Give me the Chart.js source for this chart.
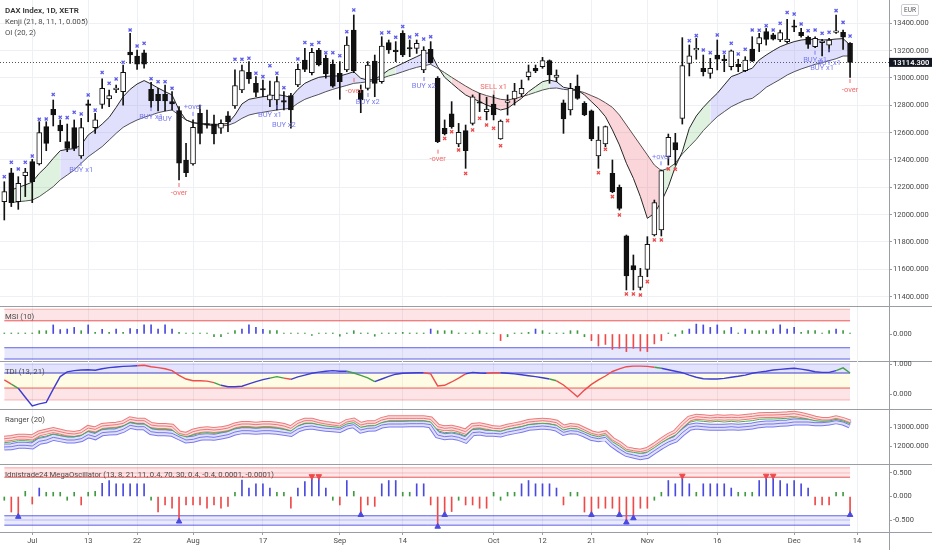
<!DOCTYPE html>
<html>
<head>
<meta charset="utf-8">
<script src="https://cdn.jsdelivr.net/npm/chart.js@4.4.1/dist/chart.umd.min.js"></script>
<style>
  html, body { margin: 0; padding: 0; background: #fff; }
  #wrap { position: relative; width: 932px; height: 550px; overflow: hidden; font-family: Roboto, "Noto Sans", sans-serif; }
  canvas { position: absolute; left: 0; z-index: 2; }
  .sep { position: absolute; left: 0; width: 932px; height: 1px; background: #9a9da3; z-index: 1; }
  .vline { position: absolute; left: 889px; top: 0; width: 1px; height: 550px; background: #9a9da3; z-index: 1; }
  .ttl { position: absolute; left: 5px; font-size: 7.7px; line-height: 10px; color: #4a4a4a; white-space: nowrap; z-index: 4; }
  .hd { color: #333; font-weight: 600; font-size: 8px; }
  .eur { position: absolute; left: 901px; top: 4px; width: 16px; height: 10px; border: 1px solid #c9ccd2; border-radius: 2px;
         font-size: 6.5px; line-height: 10px; text-align: center; color: #555; z-index: 4; }
</style>
</head>
<body>
<div id="wrap">
  <canvas id="cMain" width="932" height="306" style="top:0;width:932px;height:306px"></canvas>
  <canvas id="cMsi"  width="932" height="54"  style="top:307px;width:932px;height:54px"></canvas>
  <canvas id="cTdi"  width="932" height="48"  style="top:361px;width:932px;height:48px"></canvas>
  <canvas id="cRng"  width="932" height="54"  style="top:410px;width:932px;height:54px"></canvas>
  <canvas id="cMega" width="932" height="85"  style="top:465px;width:932px;height:85px"></canvas>

  <div class="sep" style="top:306px"></div>
  <div class="sep" style="top:361px"></div>
  <div class="sep" style="top:409px"></div>
  <div class="sep" style="top:464px"></div>
  <div class="sep" style="top:532px"></div>
  <div class="vline"></div>

  <div class="ttl hd" style="top:6px">DAX Index, 1D, XETR</div>
  <div class="ttl" style="top:17px">Kenji (21, 8, 11, 1, 0.005)</div>
  <div class="ttl" style="top:28px">OI (20, 2)</div>
  <div class="eur">EUR</div>

  <div class="ttl" style="top:312px">MSI (10)</div>
  <div class="ttl" style="top:367px">TDI (13, 21)</div>
  <div class="ttl" style="top:415px">Ranger (20)</div>
  <div class="ttl" style="top:470px">Idnistrade24 MegaOscillator (13, 8, 21, 11, 0.4, 70, 30, 0.4, -0.4, 0.0001, -0.0001)</div>
</div>

<script>
// ---- daily candles, 25 Jun .. 11 Dec 2020 (index 0 = first bar) ----
const opens = [
  12095, 12307, 12095, 12285, 12388, 12371, 12644, 12771, 12656, 12534,
  12637, 12429, 12810, 12637, 12807, 12846, 12915, 12900, 13190, 13161,
  13185, 12917, 12880, 12880, 12827, 12761, 12400, 12371, 12741, 12666,
  12663, 12632, 12724, 12795, 12912, 13041, 12961, 12922, 12839, 12839,
  12834, 12871, 12949, 13132, 13039, 13205, 13144, 13102, 13034, 13059,
  13351, 12912, 12924, 13124, 12973, 13259, 13202, 13327, 13222, 13217,
  13059, 13210, 12998, 12632, 12737, 12517, 12615, 12668, 12824, 12754,
  12810, 12554, 12822, 12846, 12883, 13010, 13071, 13083, 13127, 13005,
  12819, 12766, 12941, 12815, 12759, 12429, 12517, 12302, 12200, 11846,
  11627, 11468, 11600, 11851, 11888, 12424, 12527, 12705, 13107, 13205,
  13071, 13034, 13168, 13137, 13083, 13100, 13054, 13212, 13249, 13339,
  13315, 13278, 13266, 13380, 13334, 13298, 13229, 13259, 13241, 13334,
  13334, 13254
];
const highs = [
  12241, 12339, 12278, 12339, 12405, 12680, 12680, 12839, 12693, 12663,
  12693, 12705, 12839, 12741, 12993, 12912, 12949, 13095, 13327, 13205,
  13205, 12968, 12924, 12949, 12900, 12790, 12522, 12693, 12802, 12766,
  12729, 12693, 12754, 13059, 13095, 13120, 13010, 12985, 12978, 13010,
  12900, 12888, 13102, 13217, 13217, 13217, 13168, 13132, 13120, 13302,
  13461, 12949, 13120, 13168, 13302, 13278, 13266, 13346, 13278, 13278,
  13229, 13266, 13010, 12693, 12827, 12668, 12656, 12876, 12888, 12859,
  12876, 12693, 12876, 12961, 12985, 13095, 13095, 13151, 13132, 13059,
  12839, 12961, 13022, 12827, 12766, 12644, 12649, 12400, 12217, 11851,
  11705, 11607, 11839, 12107, 12327, 12590, 12595, 13295, 13241, 13290,
  13168, 13144, 13278, 13168, 13205, 13137, 13156, 13302, 13327, 13363,
  13327, 13351, 13429, 13424, 13363, 13307, 13302, 13283, 13290, 13460,
  13351, 13259
];
const lows = [
  11961, 12059, 12039, 12132, 12088, 12363, 12468, 12649, 12534, 12461,
  12468, 12412, 12680, 12595, 12778, 12790, 12893, 12802, 13107, 13063,
  13071, 12785, 12759, 12759, 12766, 12254, 12278, 12363, 12517, 12632,
  12517, 12595, 12607, 12778, 12893, 12961, 12863, 12863, 12790, 12766,
  12766, 12632, 12937, 13046, 13022, 13088, 12998, 12932, 12844, 13046,
  13039, 12746, 12912, 12863, 12961, 13180, 13120, 13156, 13156, 13180,
  13039, 13107, 12527, 12583, 12632, 12497, 12339, 12656, 12754, 12693,
  12693, 12551, 12729, 12802, 12863, 12985, 13039, 13071, 12961, 12973,
  12595, 12729, 12844, 12724, 12541, 12339, 12497, 12161, 12034, 11449,
  11449, 11449, 11546, 11844, 11844, 12363, 12363, 12663, 13015, 13137,
  13015, 12998, 13059, 13046, 13059, 13046, 13046, 13120, 13193, 13241,
  13278, 13266, 13254, 13339, 13298, 13217, 13222, 13161, 13193, 13327,
  13210, 13005
];
const closes = [
  12168, 12088, 12229, 12312, 12241, 12600, 12522, 12729, 12612, 12485,
  12485, 12637, 12800, 12693, 12924, 12871, 12920, 13041, 13168, 13102,
  13102, 12834, 12834, 12832, 12810, 12376, 12307, 12639, 12595, 12656,
  12590, 12668, 12680, 12944, 13054, 12993, 12895, 12912, 12876, 12973,
  12824, 12766, 13063, 13063, 13188, 13095, 13029, 12941, 12973, 13241,
  13051, 12839, 13095, 12961, 13234, 13205, 13193, 13168, 13212, 13254,
  13205, 13112, 12534, 12590, 12644, 12602, 12468, 12863, 12815, 12773,
  12729, 12685, 12832, 12905, 12924, 13046, 13051, 13127, 13022, 13022,
  12700, 12924, 12851, 12729, 12554, 12546, 12644, 12168, 12046, 11551,
  11595, 11551, 11783, 12088, 12322, 12566, 12473, 13090, 13163, 13217,
  13046, 13071, 13137, 13127, 13198, 13083, 13132, 13124, 13295, 13283,
  13285, 13332, 13285, 13371, 13310, 13246, 13290, 13271, 13278, 13344,
  13298, 13114.3
];

// ---- Kenji band: fast / slow lines and the fill state (1 up, 0 neutral, -1 down) ----
const kenjiFast = [
  null, 12180, 12200, 12217, 12239, 12302, 12351, 12412, 12468, 12478,
  12483, 12510, 12583, 12620, 12663, 12712, 12785, 12863, 12917, 12956,
  12981, 12956, 12927, 12900, 12876, 12766, 12693, 12673, 12668, 12663,
  12661, 12661, 12668, 12729, 12810, 12844, 12854, 12863, 12868, 12878,
  12871, 12858, 12917, 12961, 12985, 13005, 13012, 13015, 13015, 13029,
  13046, 12998, 12985, 12990, 13022, 13059, 13083, 13107, 13132, 13156,
  13180, 13185, 13083, 13005, 12961, 12917, 12876, 12851, 12827, 12802,
  12785, 12766, 12778, 12815, 12851, 12900, 12937, 12973, 12985, 12973,
  12932, 12922, 12912, 12876, 12827, 12778, 12717, 12620, 12510, 12376,
  12266, 12132, 11973, 12010, 12095, 12205, 12351, 12461, 12632, 12722,
  12785, 12839, 12888, 12949, 13010, 13029, 13054, 13071, 13132, 13168,
  13200, 13229, 13249, 13266, 13278, 13283, 13283, 13278, 13280, 13285,
  13288, 13241
];
const kenjiSlow = [
  null, 12088, 12095, 12100, 12107, 12132, 12168, 12205, 12254, 12290,
  12327, 12376, 12424, 12461, 12498, 12546, 12595, 12639, 12668, 12693,
  12712, 12729, 12746, 12758, 12766, 12729, 12693, 12673, 12663, 12656,
  12651, 12649, 12654, 12673, 12705, 12729, 12741, 12749, 12758, 12766,
  12773, 12778, 12815, 12844, 12863, 12880, 12900, 12917, 12932, 12946,
  12961, 12966, 12973, 12981, 12998, 13015, 13029, 13046, 13063, 13078,
  13090, 13100, 13071, 13039, 13005, 12973, 12941, 12912, 12888, 12871,
  12858, 12844, 12839, 12849, 12863, 12878, 12895, 12912, 12924, 12927,
  12917, 12912, 12907, 12893, 12871, 12849, 12819, 12785, 12729, 12656,
  12583, 12510, 12437, 12363, 12322, 12339, 12376, 12444, 12498, 12551,
  12615, 12668, 12717, 12754, 12790, 12815, 12839, 12851, 12888, 12932,
  12961, 12990, 13022, 13046, 13066, 13083, 13100, 13112, 13127, 13141,
  13161, 13161
];
const kenjiState = [
  0, 0, 0, 0, 0, 0, 0, 0, 1, 1,
  1, 1, 1, 1, 1, 1, 1, 1, 1, 1,
  1, 1, 1, 1, 1, 1, -1, -1, -1, -1,
  -1, -1, 1, 1, 1, 1, 1, 1, 1, 1,
  1, 1, 1, 1, 1, 1, 1, 1, 1, 1,
  1, 1, 1, 1, 0, 0, 1, 1, 1, 1,
  1, 1, 0, 0, -1, -1, -1, -1, -1, -1,
  -1, -1, -1, -1, -1, 0, 0, 0, 1, 1,
  1, 1, -1, -1, -1, -1, -1, -1, -1, -1,
  -1, -1, -1, -1, 0, 0, 0, 0, 0, 0,
  0, 1, 1, 1, 1, 1, 1, 1, 1, 1,
  1, 1, 1, 1, 1, 1, 1, 1, 1, 1,
  1, 1
];

// ---- OI crosses: [bar, price] ----
const crossUp = [
  [0, 12278], [1, 12383], [2, 12334], [3, 12383], [4, 12429], [5, 12698], [6, 12700], [7, 12880],
  [8, 12712], [9, 12710], [10, 12749], [11, 12737], [12, 12876], [13, 12765], [14, 13041], [15, 12961],
  [16, 12993], [17, 13115], [18, 13351], [19, 13234], [20, 13254], [21, 12995], [22, 12973], [23, 12973],
  [24, 12925], [33, 13137], [34, 13137], [35, 13145], [36, 13035], [37, 13010], [38, 13090], [39, 13035],
  [40, 12929], [42, 13139], [43, 13259], [44, 13245], [45, 13259], [46, 13185], [47, 13185], [48, 13163],
  [49, 13339], [50, 13498], [54, 13330], [55, 13334], [56, 13298], [57, 13376], [58, 13300], [59, 13317],
  [60, 13285], [61, 13302], [98, 13273], [99, 13310], [100, 13205], [101, 13185], [102, 13315], [103, 13188],
  [104, 13254], [105, 13176], [106, 13210], [107, 13351], [108, 13350], [109, 13383], [110, 13351], [111, 13400],
  [112, 13480], [113, 13468], [114, 13395], [115, 13346], [116, 13351], [117, 13327], [118, 13334], [119, 13493],
  [120, 13407], [121, 13307]
];
const crossDown = [
  [63, 12558], [64, 12607], [65, 12473], [66, 12302], [67, 12620], [68, 12705], [69, 12656], [70, 12632],
  [71, 12505], [72, 12688], [85, 12307], [86, 12478], [87, 12132], [88, 11998], [89, 11420], [90, 11420],
  [91, 11412], [92, 11510], [93, 11815], [94, 11815], [95, 12335], [96, 12332]
];

// ---- signal labels and pins on the price pane: [bar, price, text, side] ----
const notes = [
  [11, 12327, 'BUY x1', 'b'], [21, 12717, 'BUY x1', 'b'], [23, 12698, 'BUY', 'b'],
  [25, 12156, '-over', 's'], [27, 12786, '+over', 'b'], [38, 12729, 'BUY x1', 'b'],
  [40, 12656, 'BUY x2', 'b'], [50, 12905, '-over', 's'], [52, 12827, 'BUY x2', 'b'],
  [60, 12941, 'BUY x2', 'b'], [62, 12405, '-over', 's'], [70, 12932, 'SELL x1', 's'],
  [94, 12424, '+over', 'b'], [116, 13132, 'BUY x1', 'b'], [118, 13110, 'BUY x1', 'b'],
  [117, 13073, 'BUY x1', 'b'], [121, 12912, '-over', 's']
];
const pins = [
  [11, 12371, 'b'], [21, 12773, 'b'], [25, 12217, 's'], [27, 12737, 'b'], [39, 12788, 'b'],
  [50, 12985, 's'], [52, 12876, 'b'], [60, 12993, 'b'], [62, 12461, 's'], [70, 12895, 's'],
  [94, 12376, 'b'], [116, 13185, 'b'], [118, 13200, 'b'], [121, 12978, 's']
];

// ---- MSI (10) ----
const msi = [
  0.02, 0.02, 0.02, 0.02, 0.02, 0.12, 0.12, 0.33, 0.16, 0.18,
  0.24, 0.12, 0.33, 0.06, 0.17, 0.06, 0.18, 0.06, 0.20, 0.17,
  0.33, 0.33, 0.18, 0.33, 0.18, 0.06, 0.02, 0.02, 0.02, 0.02,
  -0.10, -0.10, 0.02, 0.12, 0.18, 0.33, 0.24, 0.17, 0.12, 0.12,
  0.02, 0.02, 0.02, 0.02, -0.05, 0.02, 0.02, 0.02, -0.08, 0.02,
  0.12, 0.02, 0.02, -0.08, 0.02, 0.02, 0.02, 0.06, 0.02, 0.02,
  0.02, 0.18, 0.12, 0.12, 0.12, 0.02, 0.02, 0.02, 0.12, 0.02,
  0.02, -0.24, -0.10, 0.02, 0.02, 0.06, 0.18, 0.12, 0.02, 0.02,
  0.02, 0.12, 0.12, -0.10, -0.24, -0.44, -0.38, -0.56, -0.52, -0.64,
  -0.52, -0.62, -0.64, -0.36, -0.24, 0.02, -0.08, 0.12, 0.18, 0.36,
  0.33, 0.24, 0.33, 0.12, 0.24, 0.02, 0.18, 0.12, 0.12, 0.12,
  0.18, 0.33, 0.18, 0.24, 0.06, 0.12, 0.12, 0.02, 0.12, 0.18,
  0.12, 0.02
];
const msiBands = { redHi: 0.9, redLo: 0.48, blueHi: -0.5, blueLo: -0.91 };

// ---- TDI (13, 21) ----
const tdi = [
  0.47, 0.33, 0.19, -0.11, -0.40, -0.33, -0.28, 0.16, 0.58, 0.74,
  0.78, 0.80, 0.81, 0.79, 0.84, 0.88, 0.90, 0.92, 0.93, 0.94,
  0.96, 0.91, 0.88, 0.84, 0.78, 0.62, 0.50, 0.44, 0.44, 0.43,
  0.38, 0.29, 0.24, 0.24, 0.26, 0.34, 0.41, 0.48, 0.53, 0.58,
  0.53, 0.49, 0.57, 0.63, 0.69, 0.73, 0.76, 0.78, 0.76, 0.76,
  0.70, 0.62, 0.54, 0.41, 0.50, 0.59, 0.66, 0.69, 0.70, 0.71,
  0.71, 0.67, 0.27, 0.29, 0.40, 0.53, 0.67, 0.72, 0.70, 0.69,
  0.71, 0.71, 0.69, 0.67, 0.64, 0.61, 0.58, 0.54, 0.50, 0.44,
  0.30, 0.11, -0.09, 0.13, 0.32, 0.47, 0.60, 0.75, 0.84, 0.91,
  0.93, 0.93, 0.92, 0.89, 0.86, 0.81, 0.76, 0.71, 0.63, 0.56,
  0.51, 0.50, 0.50, 0.52, 0.56, 0.59, 0.63, 0.69, 0.73, 0.76,
  0.80, 0.82, 0.84, 0.86, 0.83, 0.79, 0.74, 0.72, 0.72, 0.78,
  0.87, 0.70
];
const tdiState = [
  -1, -1, 0, 1, 1, 1, 1, 1, 1, 1,
  1, 1, 1, 1, 1, 1, 1, 1, 1, 1,
  -1, -1, -1, -1, -1, -1, -1, -1, -1, -1,
  -1, 0, 1, 1, 1, 1, 1, 1, 1, 0,
  0, -1, 1, 1, 1, 1, 1, 1, 1, 1,
  0, 0, 0, 0, 1, 1, 1, 1, 1, 1,
  1, -1, -1, -1, -1, -1, -1, 1, 1, 1,
  -1, -1, 1, 1, 1, 1, 1, 1, 1, 0,
  -1, -1, -1, -1, -1, -1, -1, -1, -1, -1,
  -1, -1, -1, -1, 0, 1, 1, 1, 1, 1,
  1, 1, 1, 1, 1, 1, 1, 1, 1, 1,
  1, 1, 1, 1, 1, 1, 1, 1, 1, 1,
  0, 0
];
const tdiLevels = [1.0, 0.7, 0.2, -0.2];

// ---- Ranger (20) ----
const rangerHigh = [
  12386, 12421, 12491, 12491, 12456, 12667, 12754, 12842, 12754, 12667,
  12632, 12702, 12947, 12877, 13053, 13088, 13123, 13193, 13403, 13333,
  13333, 13105, 13053, 13053, 13018, 12667, 12579, 12754, 12842, 12877,
  12842, 12877, 12947, 13088, 13158, 13158, 13123, 13158, 13158, 13123,
  13053, 12930, 13193, 13333, 13333, 13228, 13158, 13105, 13053, 13263,
  13333, 13105, 13193, 13193, 13368, 13456, 13456, 13456, 13456, 13456,
  13456, 13403, 13018, 12930, 12965, 12877, 12754, 13053, 13088, 13018,
  12930, 12912, 13018, 13088, 13158, 13263, 13298, 13333, 13298, 13228,
  12965, 13053, 13018, 12842, 12667, 12579, 12667, 12316, 12105, 11825,
  11755, 11702, 11790, 12018, 12281, 12526, 12702, 13105, 13439, 13544,
  13509, 13474, 13509, 13491, 13509, 13491, 13526, 13561, 13614, 13631,
  13631, 13649, 13667, 13702, 13631, 13544, 13439, 13368, 13368, 13456,
  13368, 13228
];
const rangerMid = [
  12176, 12211, 12281, 12281, 12246, 12456, 12526, 12632, 12561, 12491,
  12491, 12561, 12772, 12702, 12877, 12930, 12947, 13053, 13228, 13158,
  13158, 12930, 12877, 12877, 12842, 12579, 12491, 12579, 12667, 12702,
  12667, 12719, 12772, 12912, 12982, 12982, 12947, 12982, 12982, 12947,
  12877, 12790, 13053, 13193, 13193, 13123, 13053, 13018, 12965, 13158,
  13228, 12982, 13053, 13070, 13228, 13298, 13298, 13298, 13316, 13316,
  13316, 13263, 12807, 12702, 12737, 12667, 12526, 12877, 12912, 12842,
  12807, 12772, 12877, 12947, 13018, 13123, 13158, 13193, 13158, 13088,
  12842, 12930, 12895, 12737, 12579, 12491, 12579, 12228, 12000, 11737,
  11667, 11614, 11684, 11912, 12176, 12386, 12561, 12930, 13246, 13333,
  13298, 13263, 13298, 13263, 13298, 13263, 13298, 13333, 13403, 13421,
  13421, 13439, 13456, 13491, 13439, 13403, 13333, 13298, 13316, 13403,
  13316, 13175
];
const rangerLow = [
  11948, 11965, 12035, 12035, 12000, 12246, 12316, 12456, 12386, 12316,
  12316, 12386, 12596, 12491, 12702, 12737, 12754, 12877, 13088, 13018,
  13018, 12754, 12702, 12702, 12667, 12491, 12316, 12351, 12456, 12491,
  12456, 12526, 12596, 12737, 12807, 12807, 12772, 12807, 12807, 12772,
  12719, 12667, 12895, 13018, 13053, 12982, 12930, 12912, 12877, 13053,
  13123, 12842, 12930, 12947, 13105, 13158, 13158, 13158, 13175, 13175,
  13175, 13123, 12579, 12491, 12526, 12456, 12316, 12702, 12737, 12667,
  12667, 12632, 12737, 12807, 12877, 12982, 13018, 13053, 13018, 12947,
  12719, 12807, 12772, 12632, 12456, 12386, 12456, 12105, 11842, 11614,
  11527, 11439, 11509, 11755, 12000, 12211, 12351, 12702, 12982, 13053,
  13018, 12982, 12982, 12982, 13018, 12982, 13018, 13053, 13123, 13158,
  13158, 13193, 13210, 13263, 13263, 13263, 13228, 13228, 13263, 13333,
  13263, 13105
];

// ---- Idnistrade24 MegaOscillator ----
const mega = [
  -0.08, -0.33, -0.43, 0.11, -0.16, 0.18, 0.09, 0.09, 0.09, -0.08,
  0.09, -0.18, 0.09, 0.11, 0.28, 0.34, 0.27, 0.27, 0.27, 0.27,
  0.27, -0.08, -0.33, -0.18, -0.25, -0.53, -0.18, -0.18, -0.18, -0.25,
  -0.18, -0.25, -0.21, 0.09, 0.35, 0.18, 0.27, 0.27, 0.18, 0.09,
  0.09, -0.25, 0.18, 0.32, 0.43, 0.43, 0.18, -0.08, -0.18, 0.34,
  0.11, -0.39, -0.18, -0.21, 0.27, 0.34, 0.34, 0.09, 0.09, 0.27,
  0.27, -0.18, -0.64, -0.39, -0.32, -0.08, -0.18, -0.18, -0.25, -0.25,
  0.09, -0.08, 0.09, 0.09, 0.27, 0.34, 0.27, 0.27, 0.27, 0.18,
  -0.18, 0.09, 0.09, -0.33, -0.39, -0.25, -0.25, -0.25, -0.39, -0.55,
  -0.46, -0.25, -0.25, -0.08, 0.09, 0.34, 0.27, 0.44, 0.27, 0.09,
  0.27, 0.27, 0.27, 0.27, 0.18, 0.09, 0.09, 0.09, 0.34, 0.44,
  0.44, 0.34, 0.27, 0.34, 0.27, 0.18, -0.18, -0.18, -0.18, 0.09,
  0.09, -0.39
];
const megaLevels = [0.61, 0.5, 0.41, -0.41, -0.5, -0.61];

// ---- axes ----
const xTickIdx  = [4, 12, 19, 27, 37, 48, 57, 70, 77, 84, 92, 102, 113, 122];
const xTickText = ['Jul', '13', '22', 'Aug', '17', 'Sep', '14', 'Oct', '12', '21', 'Nov', '16', 'Dec', '14'];
const priceTicks  = [11400, 11600, 11800, 12000, 12200, 12400, 12600, 12800, 13000, 13200, 13400];
const msiTicks    = [0];
const tdiTicks    = [0, 1];
const rangerTicks = [12000, 13000];
const megaTicks   = [-0.5, 0, 0.5];

// ---- look ----
const GRID = '#eef0f3';
const AXIS = '#9a9da3';
const TXT  = '#4a4a4a';
const BLUE = '#4a4ae0';
const GREEN = '#3f9a42';
const RED = '#ee4a4a';
const BUY_COL = '#7b7bf0';
const SELL_COL = '#f06a6a';
const KENJI_FILL = { '1': 'rgba(100,100,240,0.20)', '0': 'rgba(80,180,80,0.18)', '-1': 'rgba(230,70,85,0.22)' };
const TDI_COL = { '1': '#3d3dd2', '0': '#43a047', '-1': '#ef4c4c' };
const X_MIN = -0.615, X_MAX = 126.57;
const LAST = opens.length - 1;

Chart.defaults.font.family = 'Roboto, "Noto Sans", sans-serif';
Chart.defaults.font.size = 7.5;
Chart.defaults.color = TXT;

const pts = arr => arr.map((v, i) => ({ x: i, y: v }));
const level = v => [{ x: 0, y: v }, { x: LAST, y: v }];
const histColor = (v, lim) => v > lim ? BLUE : (v < -lim ? RED : GREEN);

function xScale(show) {
  return {
    type: 'linear', min: X_MIN, max: X_MAX, offset: false,
    grid: { color: GRID, offset: false, drawTicks: show, tickLength: 3, tickColor: AXIS },
    border: { display: false },
    ticks: {
      display: show, autoSkip: false, maxRotation: 0, padding: 2, color: TXT,
      callback: v => xTickText[xTickIdx.indexOf(v)] ?? ''
    },
    afterBuildTicks: s => { s.ticks = xTickIdx.map(v => ({ value: v })); },
    afterFit: s => { s.paddingLeft = 0; s.paddingRight = 0; s.height = show ? 18 : 0; }
  };
}
function yScale(min, max, ticks, gridOn) {
  return {
    type: 'linear', position: 'right', min, max,
    grid: { drawOnChartArea: gridOn, color: GRID, tickLength: 3, tickColor: AXIS },
    border: { display: true, color: AXIS },
    ticks: { padding: 1, color: TXT, callback: v => v.toFixed(3) },
    afterBuildTicks: s => { s.ticks = ticks.map(v => ({ value: v })); },
    afterFit: s => { s.width = 43; s.paddingTop = 0; s.paddingBottom = 0; }
  };
}
function baseOptions(scales) {
  return {
    responsive: false, animation: false, events: [],
    layout: { padding: 0, autoPadding: false },
    plugins: { legend: { display: false }, tooltip: { enabled: false } },
    scales
  };
}
function lineDs(data, color, width, extra) {
  return Object.assign({ type: 'line', data, borderColor: color, borderWidth: width, pointRadius: 0, tension: 0, fill: false }, extra || {});
}

// ---- price pane ----
const priceDecor = {
  id: 'priceDecor',
  beforeDatasetsDraw(chart) {
    const { ctx, chartArea, scales: { y } } = chart;
    const py = Math.round(y.getPixelForValue(closes[LAST])) + 0.5;
    ctx.save();
    ctx.strokeStyle = '#555';
    ctx.lineWidth = 1;
    ctx.setLineDash([1, 2]);
    ctx.beginPath();
    ctx.moveTo(chartArea.left, py);
    ctx.lineTo(chartArea.right, py);
    ctx.stroke();
    ctx.restore();
  },
  afterDatasetsDraw(chart) {
    const { ctx, scales: { x, y } } = chart;
    ctx.save();
    ctx.font = '7.5px Roboto, "Noto Sans", sans-serif';
    ctx.textAlign = 'center';
    ctx.textBaseline = 'middle';
    notes.forEach(([i, v, t, side]) => {
      ctx.fillStyle = side === 'b' ? BUY_COL : SELL_COL;
      ctx.fillText(t, x.getPixelForValue(i), y.getPixelForValue(v));
    });
    pins.forEach(([i, v, side]) => {
      ctx.fillStyle = side === 'b' ? BUY_COL : SELL_COL;
      ctx.fillRect(Math.round(x.getPixelForValue(i)) - 0.5, y.getPixelForValue(v) - 2, 1, 4);
    });
    ctx.restore();
  },
  afterDraw(chart) {
    const { ctx, chartArea, scales: { y } } = chart;
    const py = y.getPixelForValue(closes[LAST]);
    ctx.save();
    ctx.fillStyle = '#131722';
    ctx.fillRect(chartArea.right, py - 4.5, 43, 9);
    ctx.fillStyle = '#fff';
    ctx.font = '600 7.5px Roboto, "Noto Sans", sans-serif';
    ctx.textAlign = 'left';
    ctx.textBaseline = 'middle';
    ctx.fillText(closes[LAST].toFixed(3), chartArea.right + 4, py + 0.5);
    ctx.restore();
  }
};

new Chart(document.getElementById('cMain'), {
  type: 'bar',
  data: {
    datasets: [
      lineDs(pts(kenjiFast), '#262626', 1, {
        order: 6, fill: '+1', backgroundColor: KENJI_FILL['1'],
        segment: { backgroundColor: c => KENJI_FILL[kenjiState[c.p0DataIndex]] }
      }),
      lineDs(pts(kenjiSlow), '#4d4d4d', 1, { order: 7 }),
      {
        type: 'bar', order: 4, grouped: false, barThickness: 1,
        data: lows.map((l, i) => ({ x: i, y: [l, highs[i]] })),
        backgroundColor: '#111'
      },
      {
        type: 'bar', order: 3, grouped: false, barThickness: 5, minBarLength: 1.5,
        data: opens.map((o, i) => ({ x: i, y: [o, closes[i]] })),
        backgroundColor: opens.map((o, i) => closes[i] >= o ? '#fff' : '#111'),
        borderColor: '#111', borderWidth: 1, borderSkipped: false
      },
      {
        type: 'line', order: 2, showLine: false,
        data: crossUp.map(([i, v]) => ({ x: i, y: v })),
        pointStyle: 'crossRot', pointRadius: 2.2, pointBorderWidth: 1.3, pointBorderColor: '#5d5deb'
      },
      {
        type: 'line', order: 2, showLine: false,
        data: crossDown.map(([i, v]) => ({ x: i, y: v })),
        pointStyle: 'crossRot', pointRadius: 2.2, pointBorderWidth: 1.3, pointBorderColor: '#f04848'
      }
    ]
  },
  options: baseOptions({ x: xScale(false), y: yScale(11331.7, 13570.7, priceTicks, true) }),
  plugins: [priceDecor]
});

// ---- MSI pane ----
new Chart(document.getElementById('cMsi'), {
  type: 'bar',
  data: {
    datasets: [
      { type: 'bar', order: 1, grouped: false, barThickness: 1, minBarLength: 1,
        data: pts(msi), backgroundColor: msi.map(v => histColor(v, 0.15)) },
      lineDs(level(msiBands.redHi), 'rgba(240,90,90,0.45)', 1, { order: 5, fill: '+1', backgroundColor: 'rgba(242,54,69,0.13)' }),
      lineDs(level(msiBands.redLo), 'rgba(235,70,70,0.9)', 1, { order: 5 }),
      lineDs(level(msiBands.blueHi), 'rgba(70,70,225,0.85)', 1, { order: 5, fill: '+1', backgroundColor: 'rgba(80,80,240,0.13)' }),
      lineDs(level(msiBands.blueLo), 'rgba(70,70,225,0.85)', 1, { order: 5 })
    ]
  },
  options: baseOptions({ x: xScale(false), y: yScale(-0.982, 0.982, msiTicks, false) })
});

// ---- TDI pane ----
new Chart(document.getElementById('cTdi'), {
  type: 'bar',
  data: {
    datasets: [
      lineDs(pts(tdi), TDI_COL['1'], 1.4, { order: 1, segment: { borderColor: c => TDI_COL[tdiState[c.p1DataIndex]] } }),
      lineDs(level(tdiLevels[0]), 'rgba(90,90,235,0.35)', 1, { order: 5, fill: '+1', backgroundColor: 'rgba(80,80,240,0.16)' }),
      lineDs(level(tdiLevels[1]), '#3b3bc9', 1, { order: 5, fill: '+1', backgroundColor: 'rgba(255,236,80,0.14)' }),
      lineDs(level(tdiLevels[2]), 'rgba(232,70,70,0.9)', 1, { order: 5, fill: '+1', backgroundColor: 'rgba(242,54,69,0.13)' }),
      lineDs(level(tdiLevels[3]), 'rgba(240,100,100,0.45)', 1, { order: 5 })
    ]
  },
  options: baseOptions({ x: xScale(false), y: yScale(-0.5, 1.1, tdiTicks, false) })
});

// ---- Ranger pane: each band is an outer stroke, a pale core and a thin centre line ----
new Chart(document.getElementById('cRng'), {
  type: 'bar',
  data: {
    datasets: [
      lineDs(pts(rangerHigh), 'rgba(236,96,96,0.85)', 6, { order: 8 }),
      lineDs(pts(rangerHigh), '#fbdede', 4, { order: 6 }),
      lineDs(pts(rangerHigh), 'rgba(232,80,80,0.9)', 0.8, { order: 4 }),
      lineDs(pts(rangerMid), '#4caf50', 1, { order: 1 }),
      lineDs(pts(rangerLow), 'rgba(96,96,236,0.85)', 7, { order: 7 }),
      lineDs(pts(rangerLow), '#e0e0fb', 5, { order: 5 }),
      lineDs(pts(rangerLow), 'rgba(80,80,228,0.9)', 0.8, { order: 3 })
    ]
  },
  options: baseOptions({ x: xScale(false), y: yScale(11053, 13895, rangerTicks, false) })
});

// ---- MegaOscillator pane ----
new Chart(document.getElementById('cMega'), {
  type: 'bar',
  data: {
    datasets: [
      { type: 'bar', order: 2, grouped: false, barThickness: 1, minBarLength: 1,
        data: pts(mega), backgroundColor: mega.map(v => histColor(v, 0.14)) },
      { type: 'line', order: 1, showLine: false,
        data: mega.map((v, i) => ({ x: i, y: v })).filter(p => p.y >= 0.4),
        pointStyle: 'triangle', rotation: 180, pointRadius: 3.2, pointBackgroundColor: RED, pointBorderColor: RED, pointBorderWidth: 1 },
      { type: 'line', order: 1, showLine: false,
        data: mega.map((v, i) => ({ x: i, y: v })).filter(p => p.y <= -0.37),
        pointStyle: 'triangle', pointRadius: 3.2, pointBackgroundColor: BLUE, pointBorderColor: BLUE, pointBorderWidth: 1 },
      lineDs(level(megaLevels[0]), 'rgba(240,90,90,0.5)', 1, { order: 5, fill: '+1', backgroundColor: 'rgba(242,54,69,0.12)' }),
      lineDs(level(megaLevels[1]), 'rgba(240,90,90,0.3)', 1, { order: 5, fill: '+1', backgroundColor: 'rgba(242,54,69,0.12)' }),
      lineDs(level(megaLevels[2]), 'rgba(232,70,70,0.9)', 1, { order: 5 }),
      lineDs(level(megaLevels[3]), 'rgba(70,70,225,0.85)', 1, { order: 5, fill: '+1', backgroundColor: 'rgba(80,80,240,0.12)' }),
      lineDs(level(megaLevels[4]), 'rgba(90,90,235,0.35)', 1, { order: 5, fill: '+1', backgroundColor: 'rgba(80,80,240,0.12)' }),
      lineDs(level(megaLevels[5]), 'rgba(70,70,225,0.85)', 1, { order: 5 })
    ]
  },
  options: baseOptions({ x: xScale(true), y: yScale(-0.755, 0.670, megaTicks, false) })
});
</script>
</body>
</html>
